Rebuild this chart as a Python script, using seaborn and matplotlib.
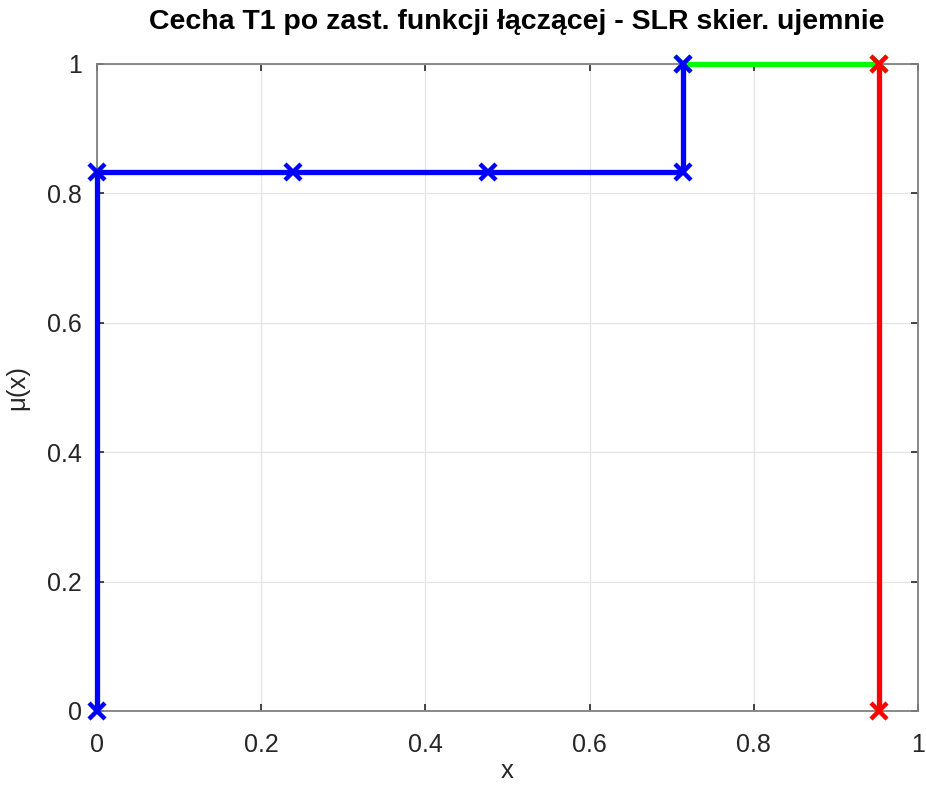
import matplotlib
matplotlib.use("Agg")
import matplotlib.pyplot as plt
import seaborn as sns
import numpy as np

# Membership function segments of feature T1
left_x = [0, 0, 5/21, 10/21, 15/21, 15/21]
left_mu = [0, 5/6, 5/6, 5/6, 5/6, 1]
top_x = [15/21, 20/21]
top_mu = [1, 1]
right_x = [20/21, 20/21]
right_mu = [1, 0]

x_ticks = [0, 0.2, 0.4, 0.6, 0.8, 1]
y_ticks = [0, 0.2, 0.4, 0.6, 0.8, 1]
tick_labels = ["0", "0.2", "0.4", "0.6", "0.8", "1"]

sns.set_theme(style="white")
plt.rcParams["font.family"] = ["Liberation Sans", "DejaVu Sans"]

fig = plt.figure(figsize=(9.26, 7.85), dpi=100)
ax = fig.add_axes([0.1048, 0.0943, 0.8866, 0.8242])

segments = [
    (top_x, top_mu, "#00ff00"),
    (left_x, left_mu, "#0000ff"),
    (right_x, right_mu, "#ff0000"),
]
for xs, ys, col in segments:
    sns.lineplot(x=xs, y=ys, sort=False, estimator=None, color=col,
                 linewidth=3.8, marker="x", markersize=12, markeredgewidth=3.2,
                 markeredgecolor=col, ax=ax, clip_on=False, zorder=5)

ax.set_xlim(0, 1)
ax.set_ylim(0, 1)
ax.set_xticks(x_ticks)
ax.set_yticks(y_ticks)
ax.set_xticklabels(tick_labels)
ax.set_yticklabels(tick_labels)
ax.grid(True, color="#e4e4e4", linewidth=0.9)
ax.set_axisbelow(True)
for s in ax.spines.values():
    s.set_visible(True)
    s.set_color("#808080")
    s.set_linewidth(1.3)
ax.tick_params(direction="in", length=5, width=1.2, color="#262626",
               top=True, right=True, bottom=True, left=True,
               labelsize=18, labelcolor="#262626")
ax.tick_params(axis="x", pad=16)
ax.tick_params(axis="y", pad=11)

ax.set_xlabel("x", fontsize=18.5, color="#262626", labelpad=1)
ax.set_ylabel("μ(x)", fontsize=18.5, color="#262626", labelpad=13)
ax.set_title("Cecha T1 po zast. funkcji łączącej - SLR skier. ujemnie",
             fontsize=20.5, fontweight="bold", color="black", pad=25, x=0.511)

fig.savefig("out.png", dpi=100, facecolor="white")
